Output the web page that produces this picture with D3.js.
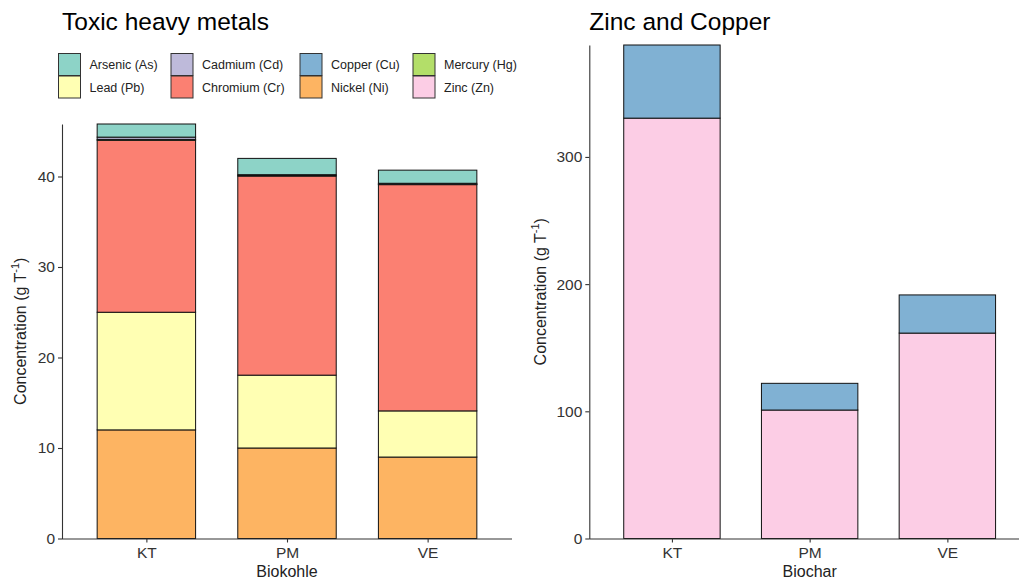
<!DOCTYPE html>
<html>
<head>
<meta charset="utf-8">
<script src="https://cdn.jsdelivr.net/npm/d3@7"></script>
<style>
  body { margin: 0; background: #fff; }
  svg { display: block; font-family: "Liberation Sans", Arial, sans-serif; }
</style>
</head>
<body>
<svg id="chart" width="1019" height="579"></svg>
<script>
// Biochar samples
const samples = ["KT", "PM", "VE"];

// Heavy metals, left panel (g T^-1), stacked bottom to top
const nickel   = [12.0, 10.0, 9.0];
const lead     = [13.0, 8.05, 5.1];
const chromium = [19.0, 22.0, 25.0];
const mercury  = [0.1, 0.05, 0.05];
const copperL  = [0.0, 0.0, 0.0];
const cadmium  = [0.25, 0.1, 0.1];
const arsenic  = [1.45, 1.8, 1.45];

// Right panel (g T^-1)
const zinc   = [330.5, 101.0, 161.5];
const copper = [57.5, 21.0, 30.0];

const leftTicks = [0, 10, 20, 30, 40];
const rightTicks = [0, 100, 200, 300];

// Legend entries in two rows
const legendRow1 = ["Arsenic (As)", "Cadmium (Cd)", "Copper (Cu)", "Mercury (Hg)"];
const legendRow2 = ["Lead (Pb)", "Chromium (Cr)", "Nickel (Ni)", "Zinc (Zn)"];

const colors = {
  "Arsenic (As)": "#8DD3C7",
  "Lead (Pb)": "#FFFFB3",
  "Cadmium (Cd)": "#BEBADA",
  "Chromium (Cr)": "#FB8072",
  "Copper (Cu)": "#80B1D3",
  "Nickel (Ni)": "#FDB462",
  "Mercury (Hg)": "#B3DE69",
  "Zinc (Zn)": "#FCCDE5"
};

const leftSeries = [
  ["Nickel (Ni)", nickel],
  ["Lead (Pb)", lead],
  ["Chromium (Cr)", chromium],
  ["Mercury (Hg)", mercury],
  ["Copper (Cu)", copperL],
  ["Cadmium (Cd)", cadmium],
  ["Arsenic (As)", arsenic]
];
const rightSeries = [
  ["Zinc (Zn)", zinc],
  ["Copper (Cu)", copper]
];

const svg = d3.select("#chart");
const axisColor = "#333";
const textColor = "#333";

function panel(opts) {
  const { x0, x1, yTop, yBottom, series, ticks, title, xTitle, yTitleX } = opts;
  const rows = samples.map((s, i) => {
    const r = { sample: s };
    series.forEach(([k, v]) => r[k] = v[i]);
    return r;
  });
  const keys = series.map(d => d[0]);
  const stacked = d3.stack().keys(keys)(rows);
  const maxVal = d3.max(stacked[stacked.length - 1], d => d[1]);

  // discrete positions: 0.6 units of padding at each end, bars 0.7 units wide
  const unit = (x1 - x0) / (samples.length - 1 + 1.2);
  const x = d3.scalePoint().domain(samples).range([x0 + 0.6 * unit, x1 - 0.6 * unit]);
  const bw = 0.7 * unit;

  const y = d3.scaleLinear().domain([0, maxVal]).range([yBottom, yTop]);

  const g = svg.append("g");

  stacked.forEach(layer => {
    g.append("g")
      .selectAll("rect")
      .data(layer)
      .join("rect")
      .attr("x", d => x(d.data.sample) - bw / 2)
      .attr("width", bw)
      .attr("y", d => y(d[1]))
      .attr("height", d => Math.max(0, y(d[0]) - y(d[1])))
      .attr("fill", colors[layer.key])
      .attr("stroke", "#111")
      .attr("stroke-width", 1);
  });

  // y axis
  const yAxis = g.append("g")
    .attr("transform", `translate(${x0},0)`)
    .call(d3.axisLeft(y).tickValues(ticks).tickSize(4).tickPadding(3).tickSizeOuter(0));
  yAxis.select(".domain").attr("stroke", axisColor).attr("stroke-width", 1.1);
  yAxis.selectAll(".tick line").attr("stroke", axisColor).attr("stroke-width", 1.1);
  yAxis.selectAll(".tick text").attr("fill", textColor)
    .style("font-size", "15.5px").style("font-family", "'Liberation Sans', Arial, sans-serif");

  // x axis
  const xAxis = g.append("g")
    .attr("transform", `translate(0,${yBottom})`)
    .call(d3.axisBottom(x).tickSize(4).tickPadding(4).tickSizeOuter(0));
  xAxis.select(".domain").attr("d", `M${x0},0.5H${x1}`)
    .attr("stroke", axisColor).attr("stroke-width", 1.1);
  xAxis.selectAll(".tick line").attr("stroke", axisColor).attr("stroke-width", 1.1);
  xAxis.selectAll(".tick text").attr("fill", textColor)
    .style("font-size", "15.5px").style("font-family", "'Liberation Sans', Arial, sans-serif");

  // axis titles
  svg.append("text")
    .attr("x", (x0 + x1) / 2)
    .attr("y", yBottom + 38.5)
    .attr("text-anchor", "middle")
    .attr("fill", "#222")
    .style("font-size", "16px")
    .text(xTitle);

  const yt = svg.append("text")
    .attr("transform", `translate(${yTitleX},${(yTop + yBottom) / 2}) rotate(-90)`)
    .attr("text-anchor", "middle")
    .attr("fill", "#222")
    .style("font-size", "16px");
  yt.append("tspan").text("Concentration (g T");
  yt.append("tspan").attr("dy", -7).style("font-size", "11px").text("-1");
  yt.append("tspan").attr("dy", 7).text(")");

  // panel title
  svg.append("text")
    .attr("x", x0)
    .attr("y", 30)
    .attr("fill", "#000")
    .style("font-size", "24.5px")
    .text(title);
}

panel({
  x0: 62, x1: 512, yTop: 124, yBottom: 538.5,
  series: leftSeries, ticks: leftTicks,
  title: "Toxic heavy metals", xTitle: "Biokohle", yTitleX: 26
});

panel({
  x0: 589.3, x1: 1030, yTop: 45, yBottom: 538.5,
  series: rightSeries, ticks: rightTicks,
  title: "Zinc and Copper", xTitle: "Biochar", yTitleX: 546
});

// Legend
const legendCols = [58.5, 171, 300, 413];
const legendRowsY = [53.5, 76];
const keySize = 22;
[legendRow1, legendRow2].forEach((row, ri) => {
  row.forEach((name, ci) => {
    const lg = svg.append("g")
      .attr("transform", `translate(${legendCols[ci]},${legendRowsY[ri]})`);
    lg.append("rect")
      .attr("width", keySize).attr("height", keySize)
      .attr("fill", colors[name])
      .attr("stroke", "#333").attr("stroke-width", 1);
    lg.append("text")
      .attr("x", keySize + 9)
      .attr("y", keySize / 2 + 4.5)
      .attr("fill", "#222")
      .style("font-size", "12.5px")
      .text(name);
  });
});
</script>
</body>
</html>
